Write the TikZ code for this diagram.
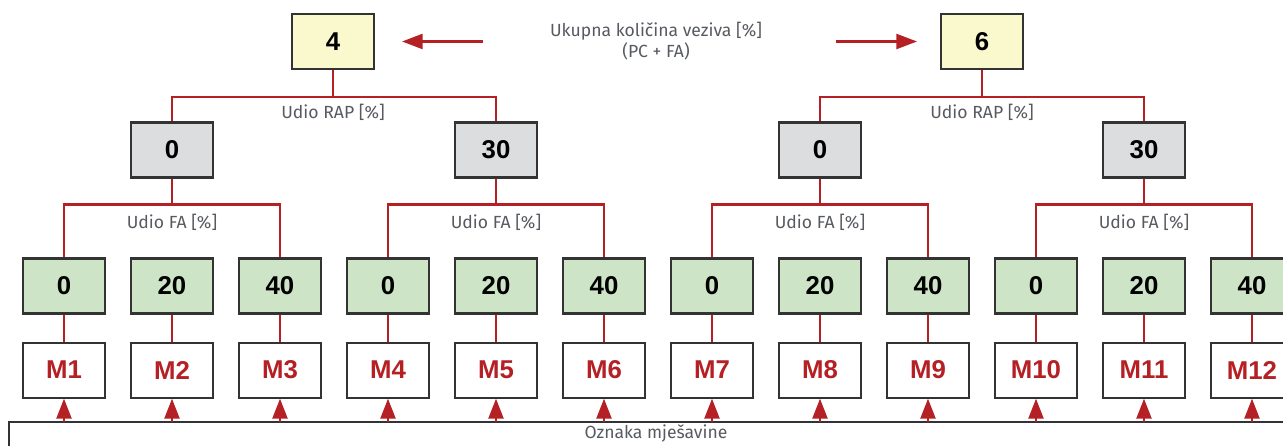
\documentclass[tikz,border=0pt]{standalone}
\usepackage{fontspec}
\setmainfont{Liberation Sans}
\newfontfamily\notefont{Fira Sans}
\usetikzlibrary{positioning,arrows.meta}

\definecolor{totalfill}{HTML}{FAF8CD}
\definecolor{rapfill}{HTML}{DCDDDF}
\definecolor{fafill}{HTML}{CDE4C6}
\definecolor{linkred}{HTML}{B52025}
\definecolor{boxline}{HTML}{333333}
\definecolor{notegray}{HTML}{575B60}

\tikzset{%
  % Specifications for style of nodes:
         box/.style =   { rectangle, draw = boxline, line width=1.8pt, minimum width=2.46cm, minimum height=1.65cm, inner sep=0pt, font=\bfseries\fontsize{22}{26}\selectfont },
         total/.style = { box, fill=totalfill },
         rap/.style =   { box, fill=rapfill },
         fa/.style =    { box, fill=fafill },
         mix/.style =   { box, fill=white, text=linkred },
         note/.style =  { font=\notefont\fontsize{15}{18}\selectfont, text=notegray, align=center, inner sep=1pt },
  % Specifications for style of lines:
         link/.style =  { draw=linkred, line width=2pt },
         pointer/.style = { link, -{Triangle[length=0.62cm, width=0.45cm]} },
         feed/.style =  { link, -{Triangle[length=0.6cm, width=0.45cm]} },
}

\begin{document}
\begin{tikzpicture}[x=0.03cm, y=0.03cm]
    \useasboundingbox (0,0) rectangle (1283,445);
    \clip (0,0) rectangle (1283,445);

    % Draw nodes
    \node (total_4)  [total] at (333,403.5)  {4};
    \node (total_6)  [total] at (982,403.5)  {6};
    \node (total)    [note]  at (656,404)    {Ukupna količina veziva [\%]\\(PC + FA)};

    \node (rap_1)    [rap]   at (172,295)    {0};
    \node (rap_2)    [rap]   at (496,295)    {30};
    \node (rap_3)    [rap]   at (820,295)    {0};
    \node (rap_4)    [rap]   at (1144,295)   {30};

    \node (fa_1)     [fa]    at (64,159)     {0};
    \node (fa_2)     [fa]    at (172,159)    {20};
    \node (fa_3)     [fa]    at (280,159)    {40};
    \node (fa_4)     [fa]    at (388,159)    {0};
    \node (fa_5)     [fa]    at (496,159)    {20};
    \node (fa_6)     [fa]    at (604,159)    {40};
    \node (fa_7)     [fa]    at (712,159)    {0};
    \node (fa_8)     [fa]    at (820,159)    {20};
    \node (fa_9)     [fa]    at (928,159)    {40};
    \node (fa_10)    [fa]    at (1036,159)   {0};
    \node (fa_11)    [fa]    at (1144,159)   {20};
    \node (fa_12)    [fa]    at (1252,159)   {40};

    \node (mix_1)    [mix, below=0.81cm of fa_1]   {M1};
    \node (mix_2)    [mix, below=0.81cm of fa_2]   {M2};
    \node (mix_3)    [mix, below=0.81cm of fa_3]   {M3};
    \node (mix_4)    [mix, below=0.81cm of fa_4]   {M4};
    \node (mix_5)    [mix, below=0.81cm of fa_5]   {M5};
    \node (mix_6)    [mix, below=0.81cm of fa_6]   {M6};
    \node (mix_7)    [mix, below=0.81cm of fa_7]   {M7};
    \node (mix_8)    [mix, below=0.81cm of fa_8]   {M8};
    \node (mix_9)    [mix, below=0.81cm of fa_9]   {M9};
    \node (mix_10)   [mix, below=0.81cm of fa_10]  {M10};
    \node (mix_11)   [mix, below=0.81cm of fa_11]  {M11};
    \node (mix_12)   [mix, below=0.81cm of fa_12]  {M12};

    % Labels on the branches
    \node (rap_note_1) [note] at (333,333)  {Udio RAP [\%]};
    \node (rap_note_2) [note] at (982,333)  {Udio RAP [\%]};
    \node (fa_note_1)  [note] at (172,223)  {Udio FA [\%]};
    \node (fa_note_2)  [note] at (496,223)  {Udio FA [\%]};
    \node (fa_note_3)  [note] at (820,223)  {Udio FA [\%]};
    \node (fa_note_4)  [note] at (1144,223) {Udio FA [\%]};

    % Bottom frame
    \coordinate (bus) at (9,23);
    \draw[boxline, line width=1.8pt] (bus) rectangle (1300,-20);
    \node (mixture)  [note, anchor=north] at (656,22) {Oznaka mješavine};

    % Draw arrows
    \coordinate (left_from)  at (483,403.5);
    \coordinate (left_to)    at (402,403.5);
    \coordinate (right_from) at (836,403.5);
    \coordinate (right_to)   at (917,403.5);
    \draw[pointer]  (left_from) -- (left_to);
    \draw[pointer]  (right_from) -- (right_to);

    \draw[link]     (total_4.south) -- ++(0,-0.81cm) -| (rap_1.north);
    \draw[link]     (total_4.south) -- ++(0,-0.81cm) -| (rap_2.north);
    \draw[link]     (total_6.south) -- ++(0,-0.81cm) -| (rap_3.north);
    \draw[link]     (total_6.south) -- ++(0,-0.81cm) -| (rap_4.north);

    \draw[link]     (rap_1.south) -- ++(0,-0.78cm) -| (fa_1.north);
    \draw[link]     (rap_1.south) -- ++(0,-0.78cm) -| (fa_3.north);
    \draw[link]     (rap_2.south) -- ++(0,-0.78cm) -| (fa_4.north);
    \draw[link]     (rap_2.south) -- ++(0,-0.78cm) -| (fa_6.north);
    \draw[link]     (rap_3.south) -- ++(0,-0.78cm) -| (fa_7.north);
    \draw[link]     (rap_3.south) -- ++(0,-0.78cm) -| (fa_9.north);
    \draw[link]     (rap_4.south) -- ++(0,-0.78cm) -| (fa_10.north);
    \draw[link]     (rap_4.south) -- ++(0,-0.78cm) -| (fa_12.north);

    \draw[link]     (fa_1) -- (mix_1);
    \draw[link]     (fa_2) -- (mix_2);
    \draw[link]     (fa_3) -- (mix_3);
    \draw[link]     (fa_4) -- (mix_4);
    \draw[link]     (fa_5) -- (mix_5);
    \draw[link]     (fa_6) -- (mix_6);
    \draw[link]     (fa_7) -- (mix_7);
    \draw[link]     (fa_8) -- (mix_8);
    \draw[link]     (fa_9) -- (mix_9);
    \draw[link]     (fa_10) -- (mix_10);
    \draw[link]     (fa_11) -- (mix_11);
    \draw[link]     (fa_12) -- (mix_12);

    \draw[feed]     (mix_1 |- bus) -- (mix_1.south);
    \draw[feed]     (mix_2 |- bus) -- (mix_2.south);
    \draw[feed]     (mix_3 |- bus) -- (mix_3.south);
    \draw[feed]     (mix_4 |- bus) -- (mix_4.south);
    \draw[feed]     (mix_5 |- bus) -- (mix_5.south);
    \draw[feed]     (mix_6 |- bus) -- (mix_6.south);
    \draw[feed]     (mix_7 |- bus) -- (mix_7.south);
    \draw[feed]     (mix_8 |- bus) -- (mix_8.south);
    \draw[feed]     (mix_9 |- bus) -- (mix_9.south);
    \draw[feed]     (mix_10 |- bus) -- (mix_10.south);
    \draw[feed]     (mix_11 |- bus) -- (mix_11.south);
    \draw[feed]     (mix_12 |- bus) -- (mix_12.south);
\end{tikzpicture}
\end{document}
